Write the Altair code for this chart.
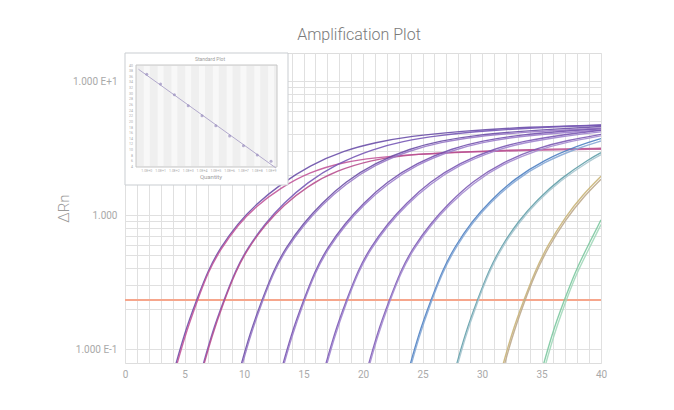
import altair as alt
import pandas as pd

# ---------------- data ----------------
X_TICKS = list(range(0, 41))
Y_GRID = [0.1, 0.2, 0.3, 0.4, 0.5, 0.6, 0.7, 0.8, 0.9, 1, 2, 3, 4, 5, 6, 7, 8, 9, 10]
THRESHOLD = 0.232

curve_names = ["d1a", "d1b", "d2a", "d2b", "d3a", "d3b", "d4a", "d4b", "d5a", "d5b",
               "d6a", "d6b", "d7a", "d7b", "d8a", "d8b", "d9a", "d9b", "d10a", "d10b"]

curve_cycles = [
    [4.0, 5.0, 6.0, 7.0, 8.0, 9.5, 11.0, 13.0, 15.5, 18.5, 21.0, 24.0, 28.0, 34.0, 40.0],
    [4.0, 5.0, 6.0, 7.0, 8.0, 9.5, 11.0, 13.0, 15.5, 18.5, 21.0, 24.0, 28.0, 34.0, 40.0],
    [6.3, 7.3, 8.3, 9.3, 10.3, 11.8, 13.3, 15.3, 17.8, 20.8, 23.3, 26.3, 30.3, 36.3, 40.0],
    [6.3, 7.3, 8.3, 9.3, 10.3, 11.8, 13.3, 15.3, 17.8, 20.8, 23.3, 26.3, 30.3, 36.3, 40.0],
    [9.5, 10.5, 11.5, 12.5, 13.5, 15.0, 16.5, 18.5, 21.0, 24.0, 26.5, 29.5, 33.5, 40.0],
    [9.5, 10.5, 11.5, 12.5, 13.5, 15.0, 16.5, 18.5, 21.0, 24.0, 26.5, 29.5, 33.5, 40.0],
    [13.0, 14.0, 15.0, 16.0, 17.0, 18.5, 20.0, 22.0, 24.5, 27.5, 30.0, 33.0, 37.0, 40.0],
    [13.0, 14.0, 15.0, 16.0, 17.0, 18.5, 20.0, 22.0, 24.5, 27.5, 30.0, 33.0, 37.0, 40.0],
    [16.6, 17.6, 18.6, 19.6, 20.6, 22.1, 23.6, 25.6, 28.1, 31.1, 33.6, 36.6, 40.0],
    [16.6, 17.6, 18.6, 19.6, 20.6, 22.1, 23.6, 25.6, 28.1, 31.1, 33.6, 36.6, 40.0],
    [20.2, 21.2, 22.2, 23.2, 24.2, 25.7, 27.2, 29.2, 31.7, 34.7, 37.2, 40.0],
    [20.2, 21.2, 22.2, 23.2, 24.2, 25.7, 27.2, 29.2, 31.7, 34.7, 37.2, 40.0],
    [23.7, 24.7, 25.7, 26.7, 27.7, 29.2, 30.7, 32.7, 35.2, 38.2, 40.0],
    [23.7, 24.7, 25.7, 26.7, 27.7, 29.2, 30.7, 32.7, 35.2, 38.2, 40.0],
    [27.6, 28.6, 29.6, 30.6, 31.6, 33.1, 34.6, 36.6, 39.1, 40.0],
    [27.6, 28.6, 29.6, 30.6, 31.6, 33.1, 34.6, 36.6, 39.1, 40.0],
    [31.5, 32.5, 33.5, 34.5, 35.5, 37.0, 38.5, 40.0],
    [31.5, 32.5, 33.5, 34.5, 35.5, 37.0, 38.5, 40.0],
    [34.9, 35.9, 36.9, 37.9, 38.9, 40.0],
    [34.9, 35.9, 36.9, 37.9, 38.9, 40.0],
]

curve_values = [
    [0.063, 0.132, 0.23, 0.39, 0.57, 0.87, 1.2, 1.68, 2.35, 3.05, 3.48, 3.88, 4.22, 4.55, 4.7],
    [0.059, 0.123, 0.22, 0.38, 0.55, 0.85, 1.16, 1.58, 2.1, 2.5, 2.68, 2.83, 2.95, 3.05, 3.1],
    [0.063, 0.132, 0.23, 0.39, 0.57, 0.87, 1.22, 1.75, 2.42, 3.1, 3.55, 3.93, 4.26, 4.58, 4.68],
    [0.060, 0.126, 0.225, 0.38, 0.56, 0.85, 1.18, 1.64, 2.16, 2.58, 2.79, 2.9, 3.02, 3.12, 3.15],
    [0.063, 0.132, 0.23, 0.39, 0.57, 0.87, 1.22, 1.77, 2.45, 3.15, 3.58, 3.95, 4.25, 4.58],
    [0.059, 0.124, 0.222, 0.375, 0.55, 0.84, 1.18, 1.7, 2.38, 3.05, 3.49, 3.86, 4.16, 4.46],
    [0.063, 0.132, 0.23, 0.39, 0.57, 0.87, 1.22, 1.77, 2.45, 3.15, 3.58, 3.95, 4.25, 4.4],
    [0.059, 0.124, 0.222, 0.375, 0.55, 0.84, 1.18, 1.7, 2.38, 3.05, 3.49, 3.86, 4.14, 4.3],
    [0.063, 0.132, 0.23, 0.39, 0.57, 0.87, 1.22, 1.77, 2.45, 3.15, 3.58, 3.95, 4.3],
    [0.059, 0.124, 0.222, 0.375, 0.55, 0.84, 1.18, 1.7, 2.38, 3.05, 3.48, 3.86, 4.18],
    [0.063, 0.132, 0.23, 0.39, 0.57, 0.87, 1.22, 1.79, 2.47, 3.18, 3.62, 4.0],
    [0.059, 0.124, 0.222, 0.375, 0.55, 0.84, 1.18, 1.72, 2.4, 3.07, 3.52, 3.9],
    [0.063, 0.132, 0.23, 0.39, 0.58, 0.91, 1.28, 1.86, 2.58, 3.33, 3.72],
    [0.059, 0.124, 0.222, 0.375, 0.56, 0.88, 1.24, 1.8, 2.49, 3.2, 3.57],
    [0.063, 0.132, 0.23, 0.39, 0.58, 0.91, 1.29, 1.88, 2.65, 2.92],
    [0.059, 0.124, 0.222, 0.375, 0.56, 0.88, 1.25, 1.82, 2.56, 2.82],
    [0.063, 0.132, 0.23, 0.39, 0.59, 0.97, 1.43, 1.95],
    [0.057, 0.122, 0.218, 0.37, 0.56, 0.92, 1.36, 1.85],
    [0.063, 0.132, 0.23, 0.39, 0.59, 0.92],
    [0.055, 0.117, 0.21, 0.36, 0.54, 0.85],
]

curve_colors = ["#6a4fa8", "#c2569a", "#7758b6", "#b8508f", "#6c4fa6", "#9a7bc8",
                "#7352ae", "#9d80cc", "#7a58b4", "#a186cf", "#7d5bb5", "#a58cd0",
                "#4d80c2", "#86a8d6", "#5f9ea8", "#a7c5cf", "#c9b477", "#bda98c",
                "#7cc8a0", "#a3d8ba"]

# standard plot (inset)
STD_QTY_EXP = [0, 1, 2, 3, 4, 5, 6, 7, 8, 9]
STD_CT = [36.9, 33.5, 29.6, 25.7, 22.2, 18.6, 15.0, 11.5, 8.3, 6.0]
STD_QTY_LABELS = ["1.0E+0", "1.0E+1", "1.0E+2", "1.0E+3", "1.0E+4",
                  "1.0E+5", "1.0E+6", "1.0E+7", "1.0E+8", "1.0E+9"]
STD_CT_TICKS = [4, 6, 8, 10, 12, 14, 16, 18, 20, 22, 24, 26, 28, 30, 32, 34, 36, 38, 40]

# ---------------- tables ----------------
rows = []
for name, cyc, val in zip(curve_names, curve_cycles, curve_values):
    for c, v in zip(cyc, val):
        rows.append({"curve": name, "cycle": c, "dRn": v})
curves_df = pd.DataFrame(rows)
thr_df = pd.DataFrame({"dRn": [THRESHOLD]})
std_df = pd.DataFrame({"qexp": STD_QTY_EXP, "ct": STD_CT, "qlabel": STD_QTY_LABELS})
ct_tick_df = pd.DataFrame({"ct": STD_CT_TICKS})

FONT = "Roboto"
LABEL_COLOR = "#a9a9a9"
GRID_COLOR = "#e0e0e0"

xscale = alt.Scale(domain=[0, 40], nice=False, zero=False)
yscale = alt.Scale(type="log", domain=[0.0787, 16.2], nice=False)

x_axis = alt.Axis(values=X_TICKS, grid=True, gridColor=GRID_COLOR, gridWidth=1,
                  ticks=False, domain=False, labelColor=LABEL_COLOR, labelFontSize=10,
                  labelFont=FONT, labelPadding=6, labelFlush=False, labelOverlap=False,
                  labelExpr="datum.value % 5 == 0 ? datum.label : ''", title=None)
y_axis = alt.Axis(values=Y_GRID, grid=True, gridColor=GRID_COLOR, gridWidth=1,
                  ticks=False, domain=False, labelColor=LABEL_COLOR, labelFontSize=10,
                  labelFont=FONT, labelPadding=8, labelOverlap=False, labelFlush=False,
                  labelExpr="datum.value == 10 ? '1.000 E+1' : datum.value == 1 ? '1.000' : datum.value == 0.1 ? '1.000 E-1' : ''",
                  title="ΔRn", titleFont=FONT, titleFontSize=15, titleFontWeight=300,
                  titleColor="#9a9a9a", titleAngle=270, titleX=-62, titleY=155,
                  titleAlign="center", titleBaseline="middle")

threshold = alt.Chart(thr_df).mark_rule(color="#f6a68c", strokeWidth=2).encode(
    y=alt.Y("dRn:Q", scale=yscale, axis=y_axis)
)
lines = alt.Chart(curves_df).mark_line(interpolate="basis", strokeWidth=1.4,
                                       opacity=0.9, clip=True).encode(
    x=alt.X("cycle:Q", scale=xscale, axis=x_axis),
    y=alt.Y("dRn:Q", scale=yscale, axis=y_axis),
    color=alt.Color("curve:N", scale=alt.Scale(domain=curve_names, range=curve_colors), legend=None),
    detail="curve:N",
)
main = alt.layer(threshold, lines)

# ---------------- inset ----------------
ix = alt.Scale(domain=[-0.78, 9.43], range=[11, 152], nice=False, zero=False)
iy = alt.Scale(domain=[4, 40.2], range=[114, 12], nice=False, zero=False)
one = pd.DataFrame({"a": [0]})

box = alt.Chart(one).mark_rect(fill="white", stroke="#c9cdd1", strokeWidth=1).encode(
    x=alt.value(0), x2=alt.value(163), y=alt.value(0), y2=alt.value(132))
inner = alt.Chart(one).mark_rect(fill="#efefef", stroke="#c6c6c6", strokeWidth=1).encode(
    x=alt.value(11), x2=alt.value(152), y=alt.value(12), y2=alt.value(114))
stripes = alt.Chart(std_df).mark_rule(color="white", strokeWidth=6, opacity=0.55).encode(
    x=alt.X("qexp:Q", scale=ix, axis=None), y=alt.value(13), y2=alt.value(113))
fit = alt.Chart(std_df).transform_regression("qexp", "ct", extent=[-0.6, 9.35]).mark_line(
    color="#b2a9cc", strokeWidth=1).encode(
    x=alt.X("qexp:Q", scale=ix, axis=None), y=alt.Y("ct:Q", scale=iy, axis=None))
pts = alt.Chart(std_df).mark_point(shape="circle", size=9, filled=True, color="#9a8fbf").encode(
    x=alt.X("qexp:Q", scale=ix, axis=None), y=alt.Y("ct:Q", scale=iy, axis=None))
xlabs = alt.Chart(std_df).mark_text(fontSize=3.5, color="#aaaaaa", font=FONT).encode(
    x=alt.X("qexp:Q", scale=ix, axis=None), y=alt.value(118), text="qlabel:N")
ylabs = alt.Chart(ct_tick_df).mark_text(fontSize=3.5, color="#aaaaaa", align="right", font=FONT).encode(
    x=alt.value(8), y=alt.Y("ct:Q", scale=iy, axis=None), text="ct:Q")
ititle = alt.Chart(one).mark_text(fontSize=5, color="#a0a0a0", font=FONT, text="Standard Plot").encode(
    x=alt.value(85), y=alt.value(6))
ixtitle = alt.Chart(one).mark_text(fontSize=6, color="#a0a0a0", font=FONT, text="Quantity").encode(
    x=alt.value(86), y=alt.value(124))

inset = alt.layer(box, inner, stripes, fit, pts, xlabs, ylabs, ititle, ixtitle)

chart = alt.layer(main, inset).resolve_scale(x="independent", y="independent").properties(
    width=476, height=310,
    autosize=alt.AutoSizeParams(type="none"),
    padding={"left": 117, "top": 45, "right": 65, "bottom": 39},
    title=alt.TitleParams("Amplification Plot", font=FONT, fontSize=16, fontWeight=300,
                          color="#7a7a7a", anchor="middle", frame="group", offset=10, dx=-4),
).configure_view(stroke="#b7bcc2", strokeWidth=1.5).configure(background="white")

chart.save("out.html", embed_options={"renderer": "svg", "actions": False})
